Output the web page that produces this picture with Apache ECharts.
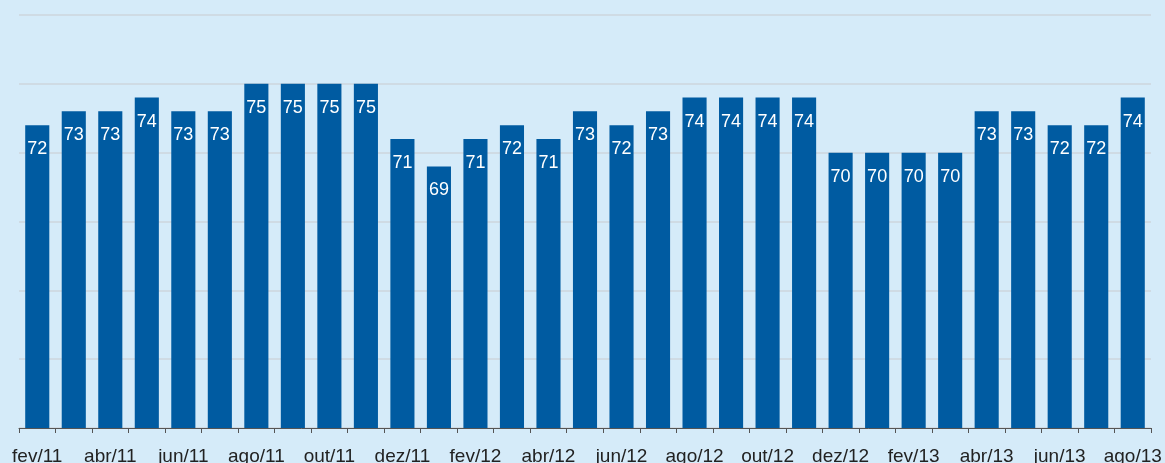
<!DOCTYPE html>
<html>
<head>
<meta charset="utf-8">
<script src="https://cdn.jsdelivr.net/npm/echarts@6/dist/echarts.min.js"></script>
<style>
html,body{margin:0;padding:0;background:#d5ebf9;}
#c{width:1165px;height:463px;}
</style>
</head>
<body>
<div id="c"></div>
<script>
const categories = ['fev/11','mar/11','abr/11','mai/11','jun/11','jul/11','ago/11','set/11','out/11','nov/11','dez/11',
  'jan/12','fev/12','mar/12','abr/12','mai/12','jun/12','jul/12','ago/12','set/12','out/12','nov/12','dez/12',
  'jan/13','fev/13','mar/13','abr/13','mai/13','jun/13','jul/13','ago/13'];
const values = [72,73,73,74,73,73,75,75,75,75,71,69,71,72,71,73,72,73,74,74,74,74,70,70,70,70,73,73,72,72,74];
const yMin = 50, yMax = 80, yStep = 5;

const chart = echarts.init(document.getElementById('c'), null, {renderer:'canvas'});
chart.setOption({
  backgroundColor: '#d5ebf9',
  animation: false,
  grid: {left: 19, right: 14, top: 15, bottom: 35, containLabel: false, outerBoundsMode: 'none'},
  xAxis: {
    type: 'category',
    data: categories,
    axisLine: {lineStyle: {color: '#555', width: 1}},
    axisTick: {show: true, interval: 0, length: 5, lineStyle: {color: '#555'}},
    axisLabel: {interval: 1, color: '#222', fontSize: 19, fontFamily: 'Liberation Sans, Arial, sans-serif', margin: 19, verticalAlign: 'top', hideOverlap: false}
  },
  yAxis: {
    type: 'value',
    min: yMin, max: yMax, interval: yStep,
    axisLabel: {show: false},
    axisLine: {show: false},
    axisTick: {show: false},
    splitLine: {lineStyle: {color: '#cdd6dd', width: 1.5}}
  },
  series: [{
    type: 'bar',
    data: values,
    barWidth: '66%',
    itemStyle: {color: '#005ba1'},
    label: {
      show: true,
      position: 'insideTop',
      distance: 15,
      color: '#ffffff',
      fontSize: 18,
      fontFamily: 'Liberation Sans, Arial, sans-serif'
    }
  }]
});
</script>
</body>
</html>
